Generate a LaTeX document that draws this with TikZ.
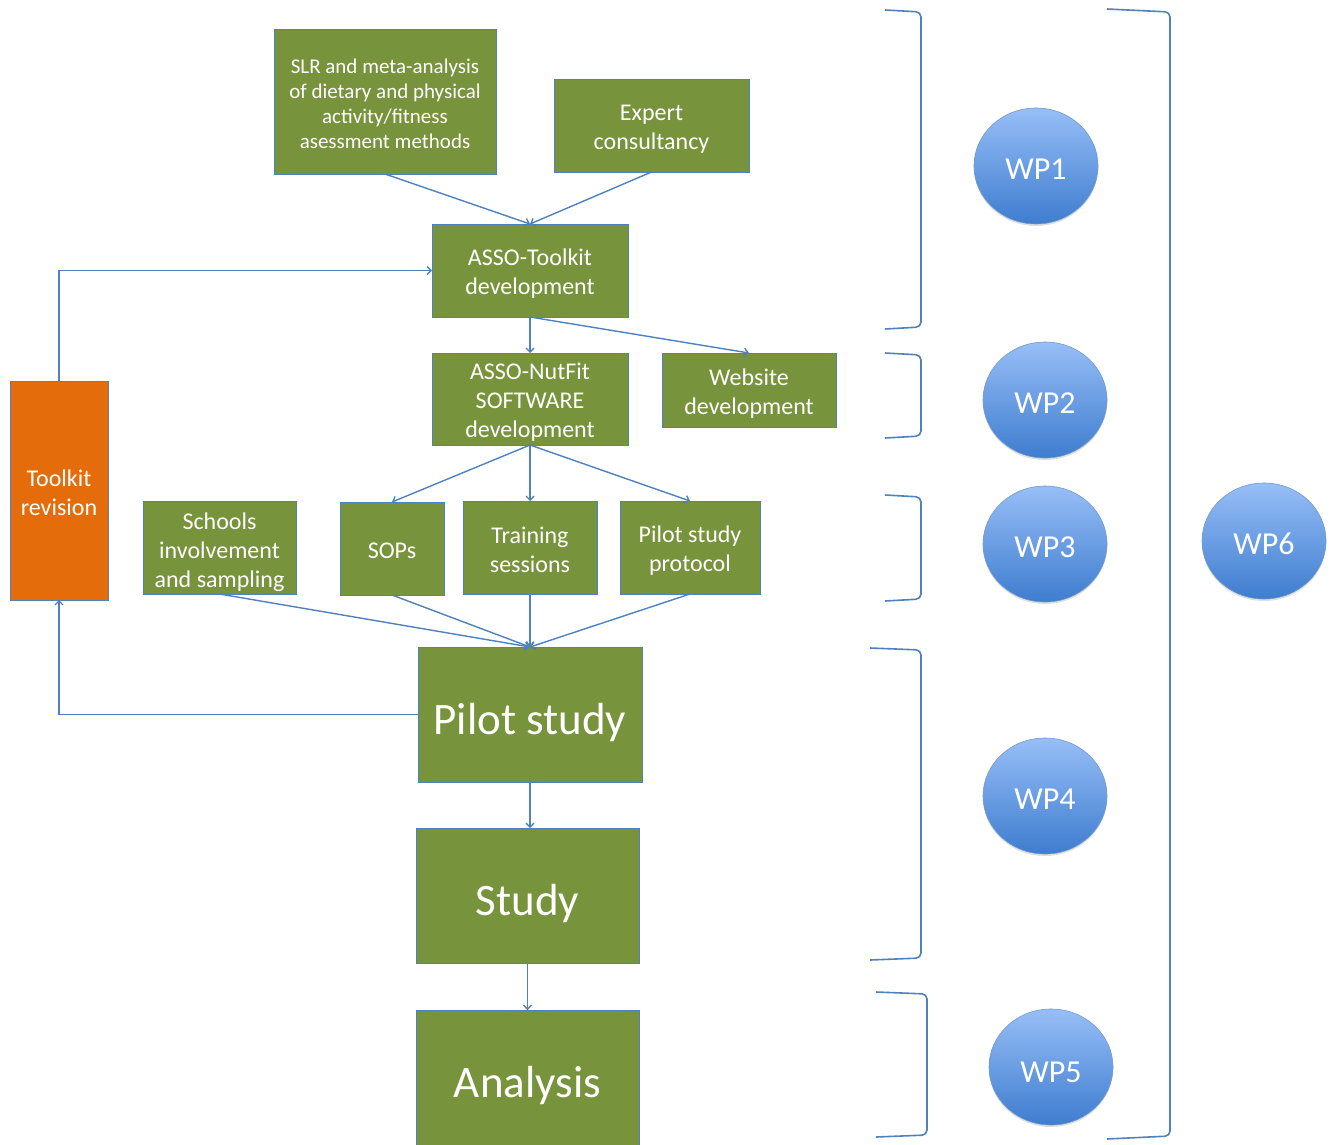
\documentclass[tikz,border=0pt]{standalone}
\usepackage{fontspec}
\setmainfont{Carlito}
\usetikzlibrary{arrows.meta,shapes.geometric,shadows}
\definecolor{boxgreen}{HTML}{77933C}
\definecolor{boxorange}{HTML}{E46C0A}
\definecolor{lineblue}{HTML}{4F81BD}
\definecolor{circtop}{HTML}{97BEF7}
\definecolor{circbot}{HTML}{3E7DCF}
\begin{document}
\begin{tikzpicture}[x=1pt,y=-1pt,
  gbox/.style={draw=lineblue,line width=1pt,fill=boxgreen,inner sep=0pt,outer sep=0pt},
  obox/.style={gbox,fill=boxorange},
  basetxt/.style={text=white,align=center,inner sep=0pt},
  rt/.style={basetxt,yshift=-3.5pt,font=\fontsize{24}{29}\selectfont},
  st/.style={basetxt,yshift=-1.5pt,font=\fontsize{21}{25}\selectfont},
  bt/.style={basetxt,yshift=-7.5pt,font=\fontsize{45}{54}\selectfont},
  wt/.style={basetxt,yshift=-3pt,font=\fontsize{32}{38}\selectfont},
  wp/.style={ellipse,draw=lineblue!80,line width=0.6pt,top color=circtop,bottom color=circbot,
    minimum width=124pt,minimum height=116pt,inner sep=0pt,
    drop shadow={opacity=0.25,shadow xshift=0pt,shadow yshift=-2pt}},
  arr/.style={draw=lineblue,line width=1.4pt,-{Straight Barb[length=4pt,width=8pt]}},
  brk/.style={draw=lineblue,line width=1.6pt,rounded corners=5pt}]
\useasboundingbox (0,0) rectangle (1335,1145);

% boxes
\node[gbox,minimum width=222pt,minimum height=144pt,
  label={[st]center:SLR and meta-analysis\\of dietary and physical\\activity/fitness\\asessment methods}] (slr) at (385,102) {};
\node[gbox,minimum width=195pt,minimum height=92pt,label={[rt]center:Expert\\consultancy}] (exp) at (651.5,126) {};
\node[gbox,minimum width=196pt,minimum height=93pt,label={[rt]center:ASSO-Toolkit\\development}] (tool) at (530,270.5) {};
\node[gbox,minimum width=196pt,minimum height=92pt,label={[rt]center:ASSO-NutFit\\SOFTWARE\\development}] (nut) at (530,399) {};
\node[gbox,minimum width=174pt,minimum height=74pt,label={[rt]center:Website\\development}] (web) at (749,390) {};
\node[obox,minimum width=98pt,minimum height=219pt,label={[rt,yshift=1.5pt]center:Toolkit\\revision}] (rev) at (59,490.5) {};
\node[gbox,minimum width=153pt,minimum height=93pt,label={[rt,yshift=-1.5pt]center:Schools\\involvement\\and sampling}] (sch) at (219.5,547.5) {};
\node[gbox,minimum width=104pt,minimum height=93pt,label={[rt,yshift=1.5pt]center:SOPs}] (sop) at (392,548.5) {};
\node[gbox,minimum width=134pt,minimum height=93pt,label={[rt,yshift=1.5pt]center:Training\\sessions}] (tra) at (530,547.5) {};
\node[gbox,minimum width=140pt,minimum height=93pt,label={[rt]center:Pilot study\\protocol}] (ppr) at (690,547.5) {};
\node[gbox,minimum width=224pt,minimum height=135pt,label={[bt]center:Pilot study}] (pil) at (530,714.5) {};
\node[gbox,minimum width=223pt,minimum height=135pt,label={[bt]center:Study}] (stu) at (527.5,895.5) {};
\node[gbox,minimum width=223pt,minimum height=135pt,label={[bt]center:Analysis}] (ana) at (527.5,1077.5) {};

% work packages
\node[wp,label={[wt]center:WP1}] (wp1) at (1036,166) {};
\node[wp,label={[wt]center:WP2}] (wp2) at (1045,400) {};
\node[wp,label={[wt]center:WP3}] (wp3) at (1045,544) {};
\node[wp,label={[wt]center:WP4}] (wp4) at (1045,796) {};
\node[wp,label={[wt,yshift=-2pt]center:WP5}] (wp5) at (1051,1067) {};
\node[wp,label={[wt]center:WP6}] (wp6) at (1264,541) {};

% brackets
\draw[brk] (885,10) -- (921,12) -- (921,327) -- (885,329);
\draw[brk] (885,353) -- (921,355) -- (921,436) -- (885,438);
\draw[brk] (885,495) -- (921,497) -- (921,599) -- (885,601);
\draw[brk] (870,648) -- (921,650) -- (921,958) -- (870,960);
\draw[brk] (876,992) -- (927,994) -- (927,1135) -- (876,1137);
\draw[brk] (1107,9) -- (1170,12) -- (1170,1136) -- (1107,1139);

% connectors
\draw[arr] (slr.south) -- (tool.north);
\draw[arr] (exp.south) -- (tool.north);
\draw[arr] (tool.south) -- (nut.north);
\draw[arr] (tool.south) -- (web.north);
\draw[arr] (nut.south) -- (sop.north);
\draw[arr] (nut.south) -- (tra.north);
\draw[arr] (nut.south) -- (ppr.north);
\draw[arr] (sch.south) -- (pil.north);
\draw[arr] (sop.south) -- (pil.north);
\draw[arr] (tra.south) -- (pil.north);
\draw[arr] (ppr.south) -- (pil.north);
\draw[arr] (pil.south) -- (pil.south |- stu.north);
\draw[arr] (stu.south) -- (ana.north);
\draw[arr] (pil.west) -| (rev.south);
\draw[arr] (rev.north) |- (tool.west);
\end{tikzpicture}
\end{document}
